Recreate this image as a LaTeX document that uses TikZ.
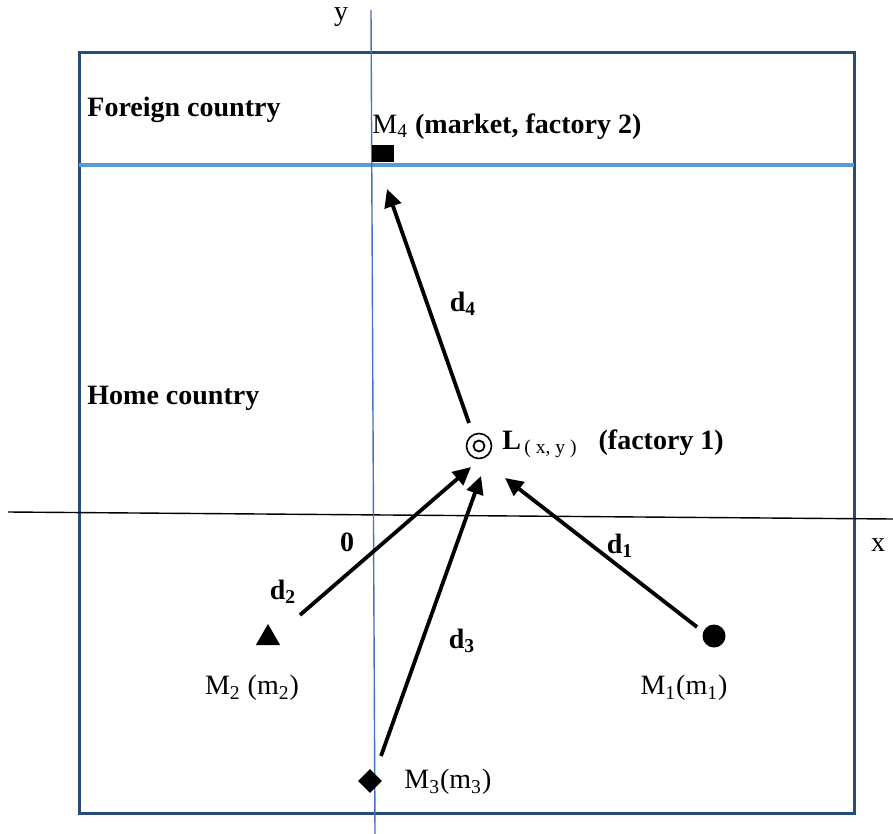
\documentclass[tikz,border=0pt]{standalone}
\usepackage{fontspec}
\setmainfont{Liberation Serif}
\usetikzlibrary{arrows.meta,positioning,shapes.geometric}
\usepackage{xcolor}
\definecolor{boxblue}{HTML}{264C7A}
\definecolor{lineblue}{HTML}{5B9BD5}
\definecolor{axisblue}{HTML}{4472C4}

\tikzset{
    txt/.style={font=\fontsize{14}{16}\selectfont, inner sep=0pt},
    bold/.style={txt, font=\fontsize{14}{16}\selectfont\bfseries},
    flow/.style={line width=1.9pt, -{Triangle[length=9pt,width=8.5pt]}},
    marker/.style={fill=black, draw=none, inner sep=0pt}
}

\begin{document}
\begin{tikzpicture}[x=0.5pt, y=-0.5pt, node distance=1cm, auto]
        \useasboundingbox (0,0) rectangle (893,834);

        \draw[boxblue, line width=1.5pt] (79,53) rectangle (854,813);
        \draw[lineblue, line width=1.9pt] (79,165) -- (854,165);
        \draw[black, line width=0.7pt] (8,512) -- (893,519);
        \draw[axisblue, line width=0.7pt] (371,10) -- (375,834);

        \node (y) [txt] at (341,17) {y};
        \node (x) [txt] at (878,545) {x};
        \node (0) [bold] at (347,542) {0};

        \node (foreign) [bold, anchor=west] at (87,110) {Foreign country};
        \node (home) [bold, anchor=west] at (87,398) {Home country};

        \node (m4) [
            marker,
            rectangle,
            minimum width=11pt,
            minimum height=8.5pt
        ] at (383,154) {};
        \node (m4label) [txt, anchor=south west] at (372,140)
            {M\textsubscript{4} \textbf{(market, factory 2)}};

        \node (L) [
            circle,
            draw,
            line width=0.8pt,
            minimum size=12.5pt,
            inner sep=0pt
        ] at (479,446) {};
        \node (Lin) [
            circle,
            draw,
            line width=0.9pt,
            minimum size=5.5pt,
            inner sep=0pt
        ] at (L) {};
        \node (Llabel) [txt, anchor=west] at (502,444)
            {\textbf{L}\textsubscript{\,( x, y )}\hspace{0.75em}\textbf{(factory 1)}};

        \node (m1) [
            marker,
            circle,
            minimum size=11.5pt
        ] at (714,636) {};
        \node (m1label) [txt] at (684,688) {M\textsubscript{1}(m\textsubscript{1})};

        \node (m2) [
            marker,
            regular polygon,
            regular polygon sides=3,
            minimum size=14pt
        ] at (268,638) {};
        \node (m2label) [txt] at (252,688) {M\textsubscript{2} (m\textsubscript{2})};

        \node (m3) [
            marker,
            diamond,
            minimum size=12pt
        ] at (370,781) {};
        \node (m3label) [txt, anchor=west] at (404,782) {M\textsubscript{3}(m\textsubscript{3})};

        \coordinate (d4s) at (469,423);
        \coordinate (d4e) at (387,189);
        \coordinate (d2s) at (300,615);
        \coordinate (d2e) at (471,467);
        \coordinate (d3s) at (381,756);
        \coordinate (d3e) at (481,476);
        \coordinate (d1s) at (697,627);
        \coordinate (d1e) at (505,478);

        \draw[flow] (d4s) to (d4e);
        \draw[flow] (d2s) to (d2e);
        \draw[flow] (d3s) to (d3e);
        \draw[flow] (d1s) to (d1e);

        \node (d4) [bold] at (463,304) {d\textsubscript{4}};
        \node (d2) [bold] at (283,592) {d\textsubscript{2}};
        \node (d3) [bold] at (462,641) {d\textsubscript{3}};
        \node (d1) [bold] at (620,546) {d\textsubscript{1}};
    \end{tikzpicture}
\end{document}
